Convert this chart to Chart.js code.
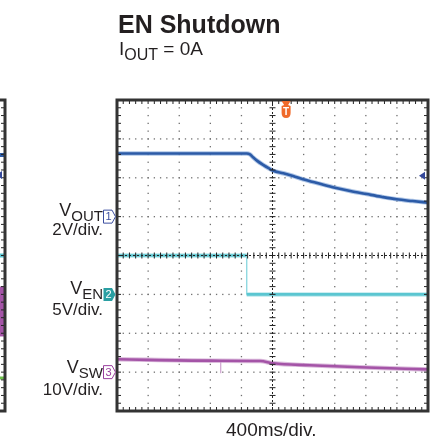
<!DOCTYPE html>
<html>
<head>
<meta charset="utf-8">
<script src="https://cdn.jsdelivr.net/npm/chart.js@4.4.0/dist/chart.umd.min.js"></script>
<style>
  html, body { margin: 0; padding: 0; background: #fff; overflow: hidden; }
  body { width: 431px; height: 441px; position: relative; font-family: "Liberation Sans", Arial, sans-serif; color: #231f20; }
  canvas { position: absolute; top: 0; }
  .txt { position: absolute; white-space: nowrap; line-height: 1; }
  .title { left: 118px; top: 12px; font-size: 25px; font-weight: bold; }
  .sub { left: 119px; top: 39px; font-size: 19px; }
  .sub span { font-size: 16px; position: relative; top: 5px; }
  .ch { right: 328px; text-align: right; }
  .ch.v { font-size: 18px; }
  .ch.v span { font-size: 15px; position: relative; top: 5px; }
  .ch.d { font-size: 17px; }
  .time { left: 226px; top: 420px; font-size: 19px; }
</style>
</head>
<body>
<canvas id="left" width="431" height="441" style="left:-423px"></canvas>
<canvas id="main" width="431" height="441" style="left:0"></canvas>

<div class="txt title">EN Shutdown</div>
<div class="txt sub">I<span>OUT</span> = 0A</div>
<div class="txt ch v" style="top:201px">V<span>OUT</span></div>
<div class="txt ch d" style="top:221px">2V/div.</div>
<div class="txt ch v" style="top:279px">V<span>EN</span></div>
<div class="txt ch d" style="top:301px">5V/div.</div>
<div class="txt ch v" style="top:358px">V<span>SW</span></div>
<div class="txt ch d" style="top:381px">10V/div.</div>
<div class="txt time">400ms/div.</div>

<script>
// horizontal: 400 ms per division, trigger at centre
const timeDiv = 400;
const xMin = -2000, xMax = 2000;

// channel settings: volts per division, offset in divisions (ch1, ch2, ch3)
const chScale = [2, 5, 10];
const chOffset = [1, -1, -3];

// VOUT (ch1)
const voutTime = [-2000, -330, -290, -250, -200, -120, -50, 10, 140, 264, 392, 600, 804, 1000, 1212, 1400, 1597, 1800, 2000];
const voutVolts = [3.25, 3.25, 3.2, 3.05, 2.88, 2.66, 2.49, 2.36, 2.23, 2.09, 1.92, 1.7, 1.49, 1.32, 1.16, 1.02, 0.89, 0.8, 0.72];

// VEN (ch2)
const enTime = [-2000, -332, -332, 2000];
const enVolts = [5, 5, 0, 0];

// VSW (ch3)
const swTime = [-2000, -800, -160, 10, 480, 1125, 2000];
const swVolts = [3.3, 2.95, 2.85, 2.27, 1.76, 1.24, 0.7];
const swSpikeTime = [-666, -666];
const swSpikeVolts = [2.9, -0.3];

// trigger
const triggerTime = 175;
const triggerLevel = 2.1; // V on ch1

// neighbouring capture at the left edge (only its right border shows), in divisions
const leftTime = [-2000, 2000];
const leftVout = [2.585, 2.585];
const leftEn = [0, 0];
const leftSwHigh = [-0.81, -0.81];
const leftSwLow = [-2.07, -2.07];
const leftCh4 = [-3.15, -3.15];
const leftTrigger = 2.07;

const toDiv = (v, ch) => chOffset[ch] + v / chScale[ch];
const isVertical = c => c.p0.parsed.x === c.p1.parsed.x;

function trace(times, values, color, width, extra) {
  return Object.assign({
    data: times.map((t, i) => ({ x: t, y: values[i] })),
    borderColor: color,
    borderWidth: width,
    pointRadius: 0,
    fill: false
  }, extra || {});
}

function chMarker(ctx, tipX, y, label, color, filled) {
  ctx.beginPath();
  ctx.moveTo(tipX - 12, y - 6.5);
  ctx.lineTo(tipX - 3.5, y - 6.5);
  ctx.lineTo(tipX, y);
  ctx.lineTo(tipX - 3.5, y + 6.5);
  ctx.lineTo(tipX - 12, y + 6.5);
  ctx.closePath();
  if (filled) {
    ctx.fillStyle = color;
    ctx.fill();
  } else {
    ctx.fillStyle = '#fff';
    ctx.fill();
    ctx.strokeStyle = color;
    ctx.lineWidth = 1;
    ctx.stroke();
  }
  ctx.fillStyle = filled ? '#fff' : color;
  ctx.font = '11px "Liberation Sans", Arial, sans-serif';
  ctx.textAlign = 'center';
  ctx.textBaseline = 'middle';
  ctx.fillText(label, tipX - 7, y + 0.5);
}

const scopeFrame = {
  id: 'scopeFrame',
  beforeDatasetsDraw(chart) {
    const { ctx, scales: { x, y } } = chart;
    ctx.save();
    ctx.fillStyle = '#707070';
    // dotted major grid, dots every 1/5 division
    for (let i = 1; i < 10; i++) {
      if (i === 5) continue;
      const px = x.getPixelForValue(xMin + i * timeDiv);
      for (let j = 1; j < 40; j++) {
        const py = y.getPixelForValue(4 - j / 5);
        ctx.fillRect(px - 0.6, py - 0.6, 1.3, 1.3);
      }
    }
    for (let j = 1; j < 8; j++) {
      if (j === 4) continue;
      const py = y.getPixelForValue(4 - j);
      for (let i = 1; i < 50; i++) {
        const px = x.getPixelForValue(xMin + i * timeDiv / 5);
        ctx.fillRect(px - 0.6, py - 0.6, 1.3, 1.3);
      }
    }
    ctx.restore();
  },
  afterDatasetsDraw(chart, args, opts) {
    const { ctx, scales: { x, y } } = chart;
    const a = chart.chartArea;
    const cx = x.getPixelForValue(0), cy = y.getPixelForValue(0);
    ctx.save();
    ctx.strokeStyle = '#222';
    ctx.lineWidth = 1;
    // centre cross
    ctx.setLineDash([2, 2]);
    ctx.beginPath();
    ctx.moveTo(cx, a.top); ctx.lineTo(cx, a.bottom);
    ctx.moveTo(a.left, cy); ctx.lineTo(a.right, cy);
    ctx.stroke();
    ctx.setLineDash([]);
    ctx.beginPath();
    for (let j = 1; j < 40; j++) {
      const py = y.getPixelForValue(4 - j / 5);
      ctx.moveTo(cx - 3, py); ctx.lineTo(cx + 3, py);
    }
    for (let i = 1; i < 50; i++) {
      const px = x.getPixelForValue(xMin + i * timeDiv / 5);
      ctx.moveTo(px, cy - 3); ctx.lineTo(px, cy + 3);
    }
    // minor ticks on the frame
    for (let i = 1; i < 50; i++) {
      const px = x.getPixelForValue(xMin + i * timeDiv / 5);
      ctx.moveTo(px, a.top); ctx.lineTo(px, a.top + 4);
      ctx.moveTo(px, a.bottom - 4); ctx.lineTo(px, a.bottom);
    }
    for (let j = 1; j < 40; j++) {
      const py = y.getPixelForValue(4 - j / 5);
      ctx.moveTo(a.left, py); ctx.lineTo(a.left + 4, py);
      ctx.moveTo(a.right - 4, py); ctx.lineTo(a.right, py);
    }
    ctx.stroke();
    // frame
    ctx.strokeStyle = '#333';
    ctx.lineWidth = 3;
    ctx.strokeRect(a.left, a.top, a.right - a.left, a.bottom - a.top);

    // trigger level arrow on the right edge
    const ty = y.getPixelForValue(opts.triggerDiv);
    ctx.fillStyle = '#34489a';
    ctx.beginPath();
    ctx.moveTo(a.right - 9, ty);
    ctx.lineTo(a.right - 3, ty - 4);
    ctx.lineTo(a.right - 3, ty + 4);
    ctx.closePath();
    ctx.fill();
    ctx.restore();
  },
  afterDraw(chart, args, opts) {
    if (!opts.markers) return;
    const { ctx, scales: { x, y } } = chart;
    const a = chart.chartArea;
    ctx.save();
    chMarker(ctx, a.left - 1.5, y.getPixelForValue(chOffset[0]), '1', '#3b4ea0', false);
    chMarker(ctx, a.left - 1.5, y.getPixelForValue(chOffset[1]), '2', '#2a9fa3', true);
    chMarker(ctx, a.left - 1.5, y.getPixelForValue(chOffset[2]), '3', '#9a3f9e', false);

    // trigger position marker at the top
    const tx = x.getPixelForValue(triggerTime);
    ctx.fillStyle = '#f06a2a';
    ctx.beginPath();
    ctx.moveTo(tx - 4.5, a.top + 1);
    ctx.lineTo(tx + 4.5, a.top + 1);
    ctx.lineTo(tx + 2, a.top + 5);
    ctx.lineTo(tx + 4.5, a.top + 6);
    ctx.lineTo(tx + 4.5, a.top + 13);
    ctx.quadraticCurveTo(tx + 4.5, a.top + 18, tx, a.top + 18);
    ctx.quadraticCurveTo(tx - 4.5, a.top + 18, tx - 4.5, a.top + 13);
    ctx.lineTo(tx - 4.5, a.top + 6);
    ctx.lineTo(tx - 2, a.top + 5);
    ctx.closePath();
    ctx.fill();
    ctx.fillStyle = '#fff';
    ctx.font = 'bold 10px "Liberation Sans", Arial, sans-serif';
    ctx.textAlign = 'center';
    ctx.textBaseline = 'middle';
    ctx.fillText('T', tx, a.top + 12);
    ctx.restore();
  }
};

function makeScope(id, datasets, pluginOpts) {
  return new Chart(document.getElementById(id), {
    type: 'line',
    data: { datasets },
    options: {
      responsive: false,
      animation: false,
      devicePixelRatio: 1,
      events: [],
      layout: { padding: { left: 117, top: 100, right: 3, bottom: 30 } },
      scales: {
        x: { type: 'linear', min: xMin, max: xMax, display: false },
        y: { type: 'linear', min: -4, max: 4, display: false }
      },
      plugins: {
        legend: { display: false },
        tooltip: { enabled: false },
        scopeFrame: pluginOpts
      }
    },
    plugins: [scopeFrame]
  });
}

const voutDiv = voutVolts.map(v => toDiv(v, 0));
const enDiv = enVolts.map(v => toDiv(v, 1));
const swDiv = swVolts.map(v => toDiv(v, 2));
const spikeDiv = swSpikeVolts.map(v => toDiv(v, 2));

makeScope('main', [
  trace(voutTime, voutDiv, '#2c5ba7', 2.6, { order: 1, cubicInterpolationMode: 'monotone' }),
  trace(voutTime, voutDiv, 'rgba(140,172,220,0.7)', 4.5, { order: 2, cubicInterpolationMode: 'monotone' }),
  trace(enTime, enDiv, '#5bc6d1', 2.6, {
    order: 1,
    segment: { borderWidth: c => isVertical(c) ? 1 : undefined, borderColor: c => isVertical(c) ? '#92d9e1' : undefined }
  }),
  trace(enTime, enDiv, 'rgba(160,222,230,0.7)', 4.5, {
    order: 2,
    segment: { borderColor: c => isVertical(c) ? 'rgba(0,0,0,0)' : undefined }
  }),
  trace(swTime, swDiv, '#a454a7', 2.6, { order: 1, cubicInterpolationMode: 'monotone' }),
  trace(swTime, swDiv, 'rgba(200,150,202,0.65)', 4.5, { order: 2, cubicInterpolationMode: 'monotone' }),
  trace(swSpikeTime, spikeDiv, '#cfa3d0', 1.2, { order: 3 })
], { markers: true, triggerDiv: toDiv(triggerLevel, 0) });

makeScope('left', [
  trace(leftTime, leftVout, '#2c5ba7', 4),
  trace(leftTime, leftEn, '#5bc6d1', 4),
  trace(leftTime, leftSwLow, '#a454a7', 1),
  trace(leftTime, leftSwHigh, '#a454a7', 1, { fill: '-1', backgroundColor: '#a454a7' }),
  trace(leftTime, leftCh4, '#6cc04a', 3)
], { markers: false, triggerDiv: leftTrigger });
</script>
</body>
</html>
